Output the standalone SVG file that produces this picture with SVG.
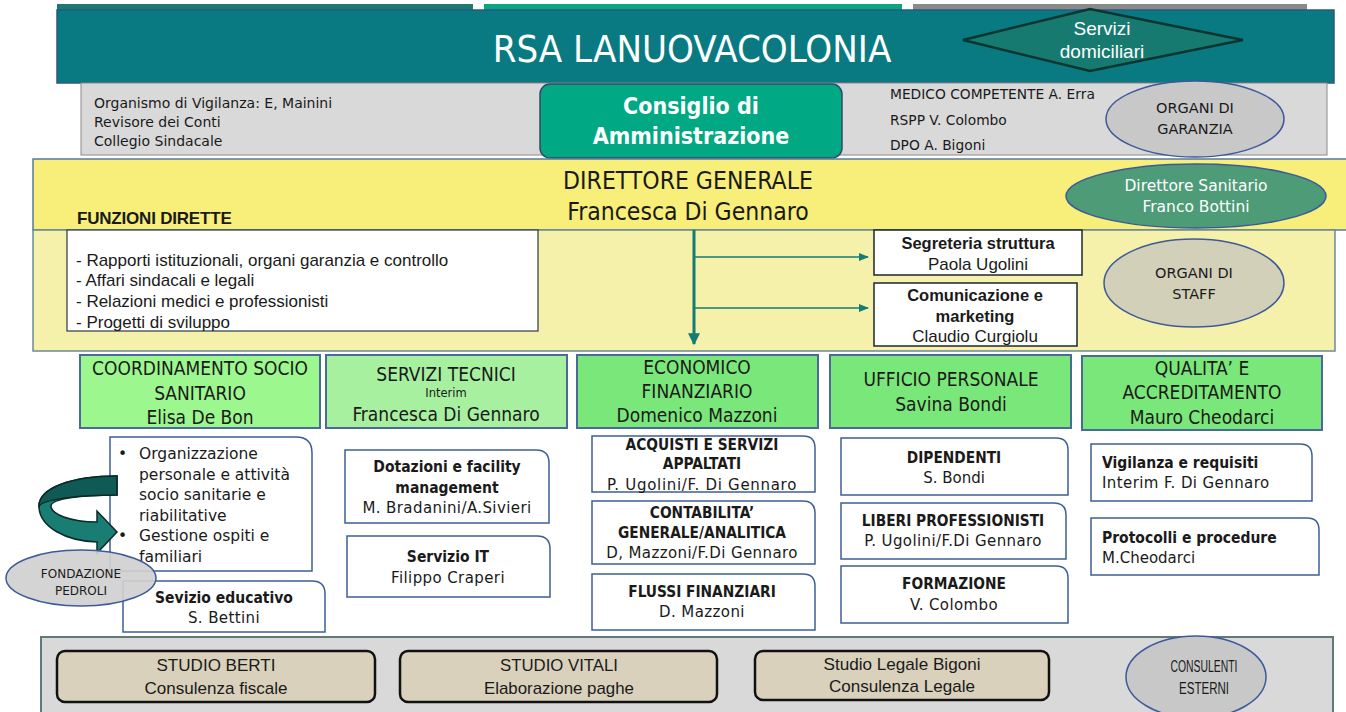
<svg xmlns="http://www.w3.org/2000/svg" width="1346" height="712" viewBox="0 0 1346 712">
<defs>
<marker id="ah" viewBox="0 0 10 10" refX="9" refY="5" markerWidth="4" markerHeight="4" orient="auto" markerUnits="strokeWidth"><path d="M0 0 L10 5 L0 10 Z" fill="#137d74"/></marker>
<marker id="ah2" viewBox="0 0 10 10" refX="9" refY="5" markerWidth="10" markerHeight="10" orient="auto" markerUnits="userSpaceOnUse"><path d="M0 1 L10 5 L0 9 Z" fill="#137d74"/></marker>
<style>
.t{font-family:"DejaVu Sans Condensed","DejaVu Sans",sans-serif;fill:#1a1a1a}
.r{font-family:"DejaVu Sans",Verdana,sans-serif;fill:#1a1a1a}
.s{letter-spacing:0.4px}
.a{font-family:"Liberation Sans",Arial,sans-serif;fill:#1a1a1a}
.w{fill:#ffffff}
.b{font-weight:bold}
.c{text-anchor:middle}
.hdr{stroke:#4a6a9a;stroke-width:2}
.sub{fill:#ffffff;stroke:#3d5f96;stroke-width:1.5}
.ell{stroke:#3d5a9a;stroke-width:1.5}
.cons{fill:#d9d1bb;stroke:#111;stroke-width:2.5}
.conn{stroke:#137d74;fill:none}
</style>
</defs>

<!-- top strips -->
<rect x="57" y="4" width="416" height="7" fill="#1c7a70"/>
<rect x="484" y="4" width="418" height="7" fill="#0aa57f"/>
<rect x="913" y="4" width="394" height="7" fill="#8a8a8a"/>

<g id="header">
<rect x="57" y="10" width="1277" height="73" fill="#097a82" stroke="#2a5a80" stroke-width="1.5"/>
<text class="t w c" x="692" y="62" font-size="38">RSA LANUOVACOLONIA</text>
</g>

<g id="servizi-domiciliari">
<polygon points="963,40 1090,9 1243,40 1090,71" fill="#177a70" stroke="#0b3530" stroke-width="2.5"/>
<text class="a w c" x="1102" y="35" font-size="19">Servizi</text>
<text class="a w c" x="1102" y="58" font-size="19">domiciliari</text>
</g>

<g id="garanzia-band">
<rect x="81" y="83" width="1246" height="72" fill="#d9d9d9" stroke="#8a8a8a" stroke-width="1"/>
<text class="r" x="94" y="108" font-size="14">Organismo di Vigilanza: E, Mainini</text>
<text class="r" x="94" y="127" font-size="14">Revisore dei Conti</text>
<text class="r" x="94" y="146" font-size="14">Collegio Sindacale</text>
<text class="r" x="890" y="99" font-size="13.8">MEDICO COMPETENTE A. Erra</text>
<text class="r" x="890" y="125" font-size="13.8">RSPP V. Colombo</text>
<text class="r" x="890" y="150" font-size="13.8">DPO A. Bigoni</text>
</g>

<g id="organi-garanzia">
<ellipse cx="1195" cy="119" rx="89" ry="38" fill="#c8c8c8" class="ell"/>
<text class="r c" x="1195" y="113" font-size="14.5">ORGANI DI</text>
<text class="r c" x="1195" y="134" font-size="14.5">GARANZIA</text>
</g>

<g id="cda">
<rect x="540" y="84" width="302" height="74" rx="10" fill="#00a983" stroke="#2f4a6a" stroke-width="1.5"/>
<text class="t w b c" x="691" y="114" font-size="23">Consiglio di</text>
<text class="t w b c" x="691" y="144" font-size="23">Amministrazione</text>
</g>

<g id="direttore-generale">
<rect x="33" y="159" width="1320" height="71" fill="#f7ef7a" stroke="#5a7aa0" stroke-width="1.5"/>
<text class="t c" x="688" y="189" font-size="24.5">DIRETTORE GENERALE</text>
<text class="t c" x="688" y="220" font-size="24.5">Francesca Di Gennaro</text>
<text class="a b" x="77" y="224" font-size="17" style="letter-spacing:-0.2px">FUNZIONI DIRETTE</text>
</g>

<g id="direttore-sanitario">
<ellipse cx="1196" cy="196" rx="130" ry="32" fill="#4e9b78" class="ell"/>
<text class="r w c" x="1196" y="191" font-size="15.5">Direttore Sanitario</text>
<text class="r w c" x="1196" y="212" font-size="15.5">Franco Bottini</text>
</g>

<g id="staff-band">
<rect x="33" y="230" width="1302" height="121" fill="#f5f0aa" stroke="#6a8a9a" stroke-width="1.5"/>
</g>

<g id="funzioni-dirette">
<rect x="67" y="230" width="471" height="101" fill="#ffffff" stroke="#2a3a4a" stroke-width="1.2"/>
<text class="a" x="76" y="266" font-size="17">- Rapporti istituzionali, organi garanzia e controllo</text>
<text class="a" x="76" y="286" font-size="17">- Affari sindacali e legali</text>
<text class="a" x="76" y="307" font-size="17">- Relazioni medici e professionisti</text>
<text class="a" x="76" y="328" font-size="17">- Progetti di sviluppo</text>
</g>

<g id="segreteria">
<rect x="874" y="230" width="208" height="45" fill="#ffffff" stroke="#1a2a2a" stroke-width="1.5"/>
<text class="a b c" x="978" y="249" font-size="16.5">Segreteria struttura</text>
<text class="a c" x="978" y="270" font-size="17">Paola Ugolini</text>
</g>

<g id="comunicazione">
<rect x="874" y="283" width="203" height="63" fill="#ffffff" stroke="#1a2a2a" stroke-width="1.5"/>
<text class="a b c" x="975" y="301" font-size="16.5">Comunicazione e</text>
<text class="a b c" x="975" y="322" font-size="16.5">marketing</text>
<text class="a c" x="975" y="342" font-size="17">Claudio Curgiolu</text>
</g>

<g id="organi-staff">
<ellipse cx="1194" cy="283" rx="90" ry="44" fill="#d3d0b9" class="ell"/>
<text class="r c" x="1194" y="278" font-size="14.5">ORGANI DI</text>
<text class="r c" x="1194" y="299" font-size="14.5">STAFF</text>
</g>

<g id="connectors">
<line class="conn" x1="694" y1="230" x2="694" y2="344" stroke-width="3" marker-end="url(#ah)"/>
<line class="conn" x1="695" y1="257" x2="868" y2="257" stroke-width="1.5" marker-end="url(#ah2)"/>
<line class="conn" x1="695" y1="308" x2="868" y2="308" stroke-width="1.5" marker-end="url(#ah2)"/>
</g>

<g id="coord-socio-sanitario">
<rect x="80" y="355" width="240" height="73" fill="#9cf78e" class="hdr"/>
<text class="t c" x="200" y="375" font-size="19">COORDINAMENTO SOCIO</text>
<text class="t c" x="200" y="400" font-size="19">SANITARIO</text>
<text class="t c" x="200" y="424" font-size="19">Elisa De Bon</text>
</g>

<g id="servizi-tecnici">
<rect x="326" y="355" width="241" height="73" fill="#a6f0a0" class="hdr"/>
<text class="t c" x="446" y="381" font-size="19">SERVIZI TECNICI</text>
<text class="r c" x="446" y="397" font-size="11.5">Interim</text>
<text class="t c" x="446" y="421" font-size="19">Francesca Di Gennaro</text>
</g>

<g id="economico-finanziario">
<rect x="577" y="355" width="241" height="73" fill="#7ae77a" class="hdr"/>
<text class="t c" x="697" y="374" font-size="19">ECONOMICO</text>
<text class="t c" x="697" y="398" font-size="19">FINANZIARIO</text>
<text class="t c" x="697" y="422" font-size="19">Domenico Mazzoni</text>
</g>

<g id="ufficio-personale">
<rect x="830" y="355" width="241" height="73" fill="#7ae77a" class="hdr"/>
<text class="t c" x="951" y="386" font-size="19">UFFICIO PERSONALE</text>
<text class="t c" x="951" y="411" font-size="19">Savina Bondi</text>
</g>

<g id="qualita">
<rect x="1082" y="356" width="240" height="74" fill="#7ae77a" class="hdr"/>
<text class="t c" x="1202" y="375" font-size="19">QUALITA’ E</text>
<text class="t c" x="1202" y="399" font-size="19">ACCREDITAMENTO</text>
<text class="t c" x="1202" y="424" font-size="19">Mauro Cheodarci</text>
</g>

<!-- column 1 -->
<g id="attivita-socio-sanitarie">
<path class="sub" d="M110 437 H296 Q312 437 312 453 V571 H110 Z"/>
<text class="r" x="118" y="459" font-size="15.5">•</text>
<text class="r" x="139" y="459" font-size="15.5">Organizzazione</text>
<text class="r" x="139" y="480" font-size="15.5">personale e attività</text>
<text class="r" x="139" y="500" font-size="15.5">socio sanitarie e</text>
<text class="r" x="139" y="521" font-size="15.5">riabilitative</text>
<text class="r" x="118" y="541" font-size="15.5">•</text>
<text class="r" x="139" y="541" font-size="15.5">Gestione ospiti e</text>
<text class="r" x="139" y="562" font-size="15.5">familiari</text>
</g>

<g id="curved-arrow">
<path d="M117 476 C72 476 39 488 39 506 C39 527 66 541 97 542 L97 553 L117 532 L97 511 L97 522 C70 522 51 514 51 506 C51 499 80 495 117 495 Z" fill="#1a7d73" stroke="#0a2a28" stroke-width="1.5"/>
<path d="M117 476 C72 476 39 488 39 506 C44 499 80 495 117 495 Z" fill="#0f5a54" stroke="#0a2a28" stroke-width="1.5"/>
</g>

<g id="servizio-educativo">
<path class="sub" d="M123 581 H312 Q325 581 325 594 V632 H123 Z"/>
<text class="t b c" x="224" y="603" font-size="15.5">Sevizio educativo</text>
<text class="r s c" x="224" y="623" font-size="15">S. Bettini</text>
</g>

<g id="fondazione-pedroli">
<ellipse cx="81" cy="578" rx="75" ry="28" fill="#d0d0d0" fill-opacity="0.92" class="ell"/>
<text class="r c" x="81" y="578" font-size="12">FONDAZIONE</text>
<text class="r c" x="81" y="595" font-size="12">PEDROLI</text>
</g>

<!-- column 2 -->
<g id="dotazioni">
<path class="sub" d="M345 450 H536 Q549 450 549 463 V523 H345 Z"/>
<text class="t b c" x="447" y="472" font-size="15.5">Dotazioni e facility</text>
<text class="t b c" x="447" y="493" font-size="15.5">management</text>
<text class="r s c" x="447" y="513" font-size="15">M. Bradanini/A.Sivieri</text>
</g>

<g id="servizio-it">
<path class="sub" d="M347 536 H537 Q550 536 550 549 V597 H347 Z"/>
<text class="t b c" x="448" y="562" font-size="15.5">Servizio IT</text>
<text class="r s c" x="448" y="583" font-size="15">Filippo Craperi</text>
</g>

<!-- column 3 -->
<g id="acquisti">
<path class="sub" d="M592 436 H803 Q815 436 815 448 V492 H592 Z"/>
<text class="t b c" x="702" y="450" font-size="15.3">ACQUISTI E SERVIZI</text>
<text class="t b c" x="702" y="469" font-size="15.3">APPALTATI</text>
<text class="r c" x="702" y="490" font-size="15" style="letter-spacing:0.7px">P. Ugolini/F. Di Gennaro</text>
</g>

<g id="contabilita">
<path class="sub" d="M592 501 H803 Q815 501 815 513 V564 H592 Z"/>
<text class="t b c" x="702" y="518" font-size="15.3">CONTABILITA’</text>
<text class="t b c" x="702" y="538" font-size="15.3">GENERALE/ANALITICA</text>
<text class="r s c" x="702" y="558" font-size="15">D, Mazzoni/F.Di Gennaro</text>
</g>

<g id="flussi">
<path class="sub" d="M592 574 H803 Q815 574 815 586 V630 H592 Z"/>
<text class="t b c" x="702" y="597" font-size="15.3">FLUSSI FINANZIARI</text>
<text class="r s c" x="702" y="617" font-size="15">D. Mazzoni</text>
</g>

<!-- column 4 -->
<g id="dipendenti">
<path class="sub" d="M841 438 H1056 Q1068 438 1068 450 V495 H841 Z"/>
<text class="t b c" x="954" y="463" font-size="15.3">DIPENDENTI</text>
<text class="r c" x="954" y="483" font-size="15">S. Bondi</text>
</g>

<g id="liberi-professionisti">
<path class="sub" d="M841 503 H1054 Q1066 503 1066 515 V559 H841 Z"/>
<text class="t b c" x="953" y="526" font-size="15.3">LIBERI PROFESSIONISTI</text>
<text class="r s c" x="953" y="546" font-size="15">P. Ugolini/F.Di Gennaro</text>
</g>

<g id="formazione">
<path class="sub" d="M841 566 H1056 Q1068 566 1068 578 V623 H841 Z"/>
<text class="t b c" x="954" y="589" font-size="15.3">FORMAZIONE</text>
<text class="r s c" x="954" y="610" font-size="15">V. Colombo</text>
</g>

<!-- column 5 -->
<g id="vigilanza">
<path class="sub" d="M1091 444 H1300 Q1312 444 1312 456 V501 H1091 Z"/>
<text class="t b" x="1102" y="468" font-size="15.5">Vigilanza e requisiti</text>
<text class="r s" x="1102" y="488" font-size="15">Interim F. Di Gennaro</text>
</g>

<g id="protocolli">
<path class="sub" d="M1091 518 H1307 Q1319 518 1319 530 V575 H1091 Z"/>
<text class="t b" x="1102" y="543" font-size="15.5">Protocolli e procedure</text>
<text class="r" x="1102" y="563" font-size="15">M.Cheodarci</text>
</g>

<!-- bottom consultants band -->
<g id="consulenti-band">
<rect x="41" y="637" width="1292" height="80" fill="#d9d9d9" stroke="#607a7a" stroke-width="2"/>
</g>

<g id="studio-berti">
<rect x="57" y="651" width="318" height="51" rx="8" class="cons"/>
<text class="a c" x="216" y="671" font-size="17" textLength="119" lengthAdjust="spacingAndGlyphs">STUDIO BERTI</text>
<text class="a c" x="216" y="694" font-size="17" textLength="143" lengthAdjust="spacingAndGlyphs">Consulenza fiscale</text>
</g>

<g id="studio-vitali">
<rect x="400" y="651" width="317" height="51" rx="8" class="cons"/>
<text class="a c" x="559" y="671" font-size="17" textLength="118" lengthAdjust="spacingAndGlyphs">STUDIO VITALI</text>
<text class="a c" x="559" y="694" font-size="17" textLength="150" lengthAdjust="spacingAndGlyphs">Elaborazione paghe</text>
</g>

<g id="studio-legale-bigoni">
<rect x="755" y="651" width="294" height="49" rx="8" class="cons"/>
<text class="a c" x="902" y="670" font-size="17" textLength="157" lengthAdjust="spacingAndGlyphs">Studio Legale Bigoni</text>
<text class="a c" x="902" y="692" font-size="17" textLength="146" lengthAdjust="spacingAndGlyphs">Consulenza Legale</text>
</g>

<g id="consulenti-esterni">
<ellipse cx="1196" cy="677" rx="70" ry="41" fill="#c8c8c8" class="ell"/>
<text class="a c" x="1204" y="672" font-size="16" textLength="67" lengthAdjust="spacingAndGlyphs">CONSULENTI</text>
<text class="a c" x="1204" y="694" font-size="16" textLength="50" lengthAdjust="spacingAndGlyphs">ESTERNI</text>
</g>
</svg>
